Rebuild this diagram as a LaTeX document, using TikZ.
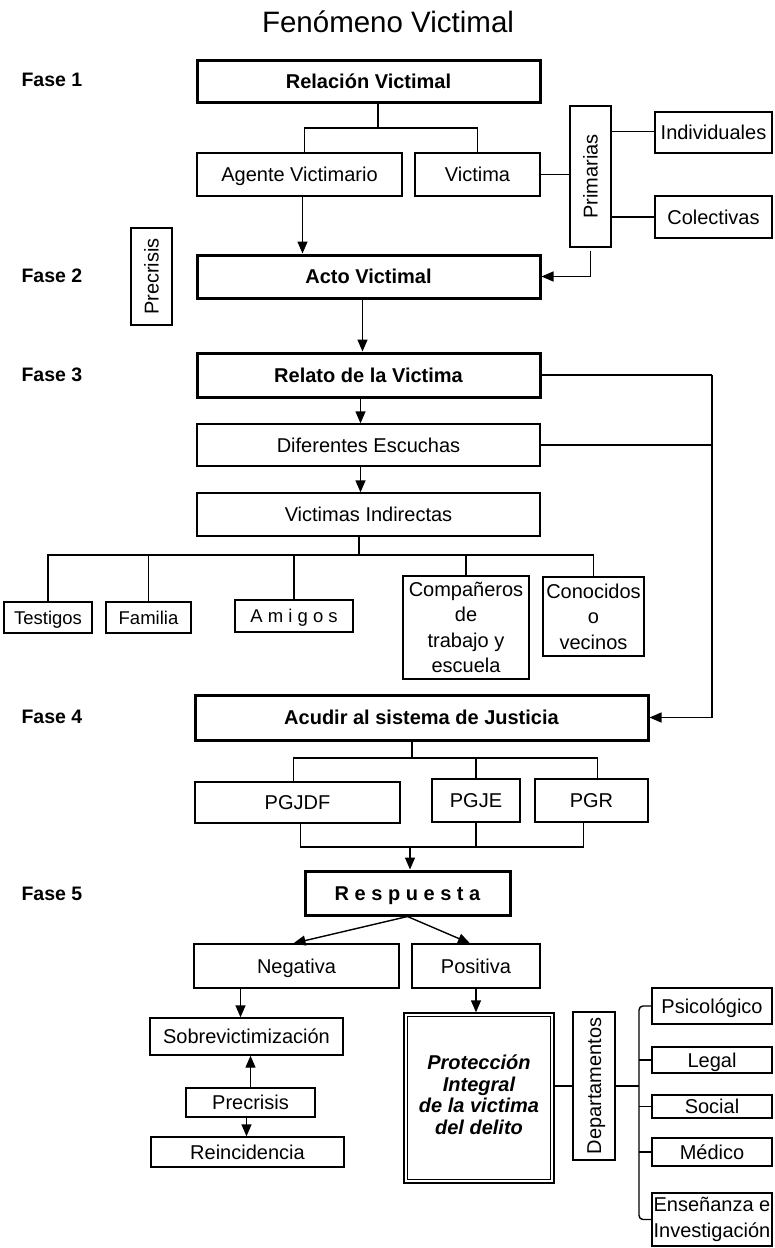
\documentclass[tikz,border=0pt]{standalone}
\usepackage{fontspec}
\setmainfont{Liberation Sans}
\usetikzlibrary{arrows.meta}
\newcommand\fs[2]{\fontsize{#1}{#2}\selectfont}
\tikzset{
  bx/.style={draw, line width=1.4pt, inner sep=0pt, align=center, font=\fs{20}{25.5}, text height=14.3pt, text depth=0pt},
  ml/.style={text height={}, text depth={}},
  sbx/.style={bx, font=\fs{18.5}{22}, text height=13.2pt},
  tbx/.style={bx, line width=3pt, font=\bfseries\fs{20}{23}},
  ln/.style={line width=1.4pt},
  arr/.style={line width=1.4pt, -{Triangle[length=12pt,width=10pt]}},
  fase/.style={anchor=west, font=\bfseries\fs{19.5}{23}},
}
% box from corners: style, name, text, x1, x2, y1, y2
\newcommand\B[7]{\node[#1,minimum width={#5-#4},minimum height={#7-#6}] (#2) at ({(#4+#5)/2},{(#6+#7)/2}) {#3};}
% rotated box (text reads bottom to top)
\newcommand\RB[7]{\node[#1,rotate=90,minimum width={#7-#6},minimum height={#5-#4}] (#2) at ({(#4+#5)/2},{(#6+#7)/2}) {#3};}
\begin{document}
\begin{tikzpicture}[x=1pt,y=-1pt]
\useasboundingbox (0,0) rectangle (774,1248);
\fill[white] (0,0) rectangle (774,1248);

\node[font=\fs{29.5}{34}] (title) at (388,22) {Fenómeno Victimal};

\node[fase] (f1) at (18,80) {Fase 1};
\node[fase] (f2) at (18,276) {Fase 2};
\node[fase] (f3) at (18,375) {Fase 3};
\node[fase] (f4) at (18,717) {Fase 4};
\node[fase] (f5) at (18,894) {Fase 5};

% Fase 1-2
\B{tbx}{rel}{Relación Victimal}{197}{540}{60}{102}
\B{bx}{agente}{Agente Victimario}{197}{402}{153}{196}
\B{bx}{victima}{Victima}{415}{540}{153}{196}
\RB{bx}{prim}{Primarias}{570}{611}{106}{247}
\B{bx}{indiv}{Individuales}{655}{772}{112}{153}
\B{bx}{colec}{Colectivas}{655}{772}{196}{238}
\RB{bx}{prec1}{Precrisis}{131}{172}{228}{325}
\B{tbx}{acto}{Acto Victimal}{197}{540}{255}{298}

% Fase 3
\B{tbx}{relato}{Relato de la Victima}{197}{540}{353}{397}
\B{bx}{dif}{Diferentes Escuchas}{197}{540}{424}{466}
\B{bx}{vind}{Victimas Indirectas}{197}{540}{493}{536}
\B{sbx}{testigos}{Testigos}{4}{92}{602}{633}
\B{sbx}{familia}{Familia}{106}{191}{602}{633}
\B{sbx}{amigos}{A m i g o s}{235}{353}{600}{632}
\B{bx,ml}{comp}{Compañeros\\de\\trabajo y\\escuela}{403}{529}{576}{679}
\B{bx,ml}{conoc}{Conocidos\\o\\vecinos}{543}{644}{577}{656}

% Fase 4
\B{tbx}{acudir}{Acudir al sistema de Justicia}{195}{648}{695}{740}
\B{bx}{pgjdf}{PGJDF}{195}{400}{782}{823}
\B{bx}{pgje}{PGJE}{432}{520}{779}{822}
\B{bx}{pgr}{PGR}{535}{648}{779}{822}

% Fase 5
\B{tbx}{resp}{R e s p u e s t a}{305}{510}{871}{915}
\B{bx}{neg}{Negativa}{194}{399}{944}{988}
\B{bx}{pos}{Positiva}{412}{540}{944}{988}
\B{bx}{sobre}{Sobrevictimización}{150}{343}{1018}{1055}
\B{bx}{prec2}{Precrisis}{186}{315}{1088}{1117}
\B{bx}{reinc}{Reincidencia}{151}{344}{1137}{1167}
\B{bx}{prot}{}{404}{554}{1013}{1183}
\draw[line width=1.4pt] ([shift={(4,4)}]prot.north west) rectangle ([shift={(-4,-4)}]prot.south east);
\node[font=\bfseries\itshape\fs{20}{21.5}, align=center] (prottxt) at ([yshift=3pt]prot.center) {Protección\\Integral\\de la victima\\del delito};
\RB{bx}{dept}{Departamentos}{573}{615}{1012}{1160}
\B{bx}{psico}{Psicológico}{652}{772}{988}{1024}
\B{bx}{legal}{Legal}{652}{772}{1047}{1073}
\B{bx}{social}{Social}{652}{772}{1095}{1118}
\B{bx}{medico}{Médico}{652}{772}{1138}{1166}
\B{bx,ml}{ensen}{Enseñanza e\\Investigación}{652}{772}{1193}{1246}

% ---- connectors ----
\coordinate (j1) at (378,128);
\draw[ln] (rel.south -| j1) -- (j1);
\draw[ln] ([xshift=5pt]agente.north) |- (j1) -| (victima.north);
\draw[arr] ([xshift=3pt]agente.south) -- ([xshift=3pt]agente.south |- acto.north);
\draw[ln] (victima.east) -- (victima.east -| prim.north);
\draw[ln] ([yshift=1pt]indiv.west -| prim.south) -- ([yshift=1pt]indiv.west);
\draw[ln] (colec.west -| prim.south) -- (colec.west);
\draw[arr] ([yshift=-3pt]prim.west) |- (acto.east);

\draw[arr] ([xshift=-6pt]acto.south) -- ([xshift=-6pt]acto.south |- relato.north);
\draw[arr] ([xshift=-8pt]relato.south) -- ([xshift=-8pt]relato.south |- dif.north);
\draw[arr] ([xshift=-8pt]dif.south) -- ([xshift=-8pt]dif.south |- vind.north);

\coordinate (rx) at (712,0);
\draw[ln] (relato.east) -- (relato.east -| rx);
\draw[ln] (dif.east) -- (dif.east -| rx);
\draw[arr] (relato.east -| rx) |- (acudir.east);

\coordinate (bus1) at (359,555);
\draw[ln] (vind.south -| bus1) -- (bus1);
\draw[ln] (testigos.north) |- (bus1) -| (conoc.north);
\draw[ln] (familia.north) -- (familia.north |- bus1);
\draw[ln] (amigos.north) -- (amigos.north |- bus1);
\draw[ln] (comp.north) -- (comp.north |- bus1);

\coordinate (bus2) at (412,758);
\draw[ln] (acudir.south -| bus2) -- (bus2);
\draw[ln] ([xshift=-4pt]pgjdf.north) |- (bus2) -| ([xshift=6pt]pgr.north);
\draw[ln] (pgje.north) -- (pgje.north |- bus2);

\coordinate (bus3) at (410,847);
\draw[ln] ([xshift=3pt]pgjdf.south) |- (bus3) -| ([xshift=-8pt]pgr.south);
\draw[ln] (pgje.south) -- (pgje.south |- bus3);
\draw[arr] (bus3) -- (bus3 |- resp.north);

\draw[arr] (resp.south) -- ([xshift=-3pt]neg.north);
\draw[arr] (resp.south) -- ([xshift=-6pt]pos.north);
\draw[arr] ([xshift=-6pt]sobre.north |- neg.south) -- ([xshift=-6pt]sobre.north);
\draw[arr] (prec2.north) -- (prec2.north |- sobre.south);
\draw[arr] ([xshift=-4pt]prec2.south) -- ([xshift=-4pt]prec2.south |- reinc.north);
\draw[arr] (pos.south) -- (pos.south |- prot.north);

\draw[ln] (prot.east |- dept.north) -- (dept.north);
\coordinate (br) at (639,0);
\draw[ln] (dept.south) -- (dept.south -| br);
\draw[ln, rounded corners=4pt] (psico.west) -- (psico.west -| br) -- (ensen.west -| br) -- (ensen.west);
\draw[ln] (legal.west -| br) -- (legal.west);
\draw[ln] (social.west -| br) -- (social.west);
\draw[ln] (medico.west -| br) -- (medico.west);
\end{tikzpicture}
\end{document}
